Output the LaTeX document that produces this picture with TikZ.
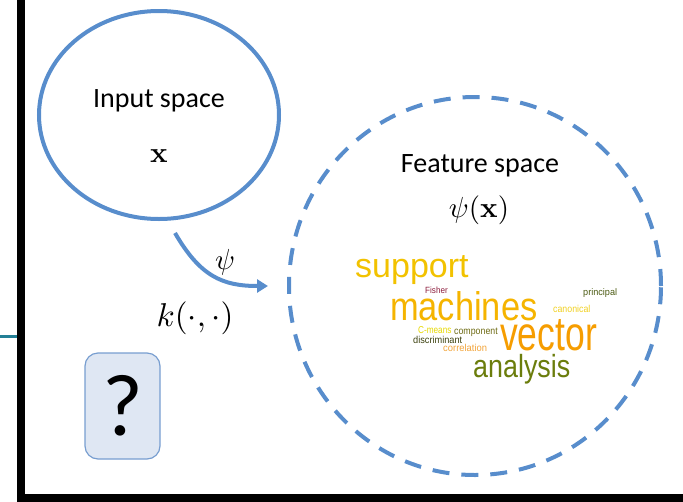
\documentclass[tikz,border=0pt]{standalone}
\usepackage{amsmath}
\usepackage{amssymb}
\usepackage[no-math]{fontspec}
\usepackage{tikz}
\usetikzlibrary{shapes.geometric,arrows.meta}

\newfontfamily\carlito{Carlito}
\newfontfamily\cloudfont{Liberation Sans}

\definecolor{spaceblue}{RGB}{88,141,204}
\definecolor{boxedge}{RGB}{120,158,208}
\definecolor{boxfill}{RGB}{223,231,243}
\definecolor{slideteal}{RGB}{35,128,150}
\definecolor{cSupport}{RGB}{242,194,0}
\definecolor{cMachines}{RGB}{245,180,0}
\definecolor{cVector}{RGB}{246,157,0}
\definecolor{cAnalysis}{RGB}{107,125,12}
\definecolor{cFisher}{RGB}{140,28,60}
\definecolor{cPrincipal}{RGB}{75,90,18}
\definecolor{cCanonical}{RGB}{240,208,32}
\definecolor{cMeans}{RGB}{230,216,0}
\definecolor{cComponent}{RGB}{109,106,18}
\definecolor{cDiscrim}{RGB}{61,66,16}
\definecolor{cCorrel}{RGB}{242,164,58}

\newcommand{\cloudword}[3]{{\fontsize{#1}{#1}\selectfont\cloudfont\scalebox{#2}[1]{#3}}}
\newcommand{\bigmath}[2][2.9]{\scalebox{#1}{$#2$}}

\begin{document}
\begin{tikzpicture}[%
x=1pt, y=-1pt,
>={Triangle[length=11pt,width=13pt]},
inspace/.style={ellipse, draw=spaceblue, line width=4pt, minimum width=240pt, minimum height=208pt, inner sep=0pt},
fspace/.style={ellipse, draw=spaceblue, line width=4pt, dash pattern=on 17pt off 12pt, minimum width=372pt, minimum height=378pt, inner sep=0pt},
qbox/.style={draw=boxedge, fill=boxfill, rounded corners=13pt, line width=1.2pt, minimum width=75pt, minimum height=106pt, inner sep=0pt},
mapto/.style={->, draw=spaceblue, line width=4pt},
slidetext/.style={font=\fontsize{28}{34}\selectfont\carlito, anchor=base, inner sep=0pt},
mathtext/.style={inner sep=0pt},
cword/.style={anchor=base west, inner sep=0pt}
]

\useasboundingbox (0,0) rectangle (683,501);

\draw[line width=8pt] (21,-10) -- (21,498) -- (700,498);
\draw[slideteal, line width=2.5pt] (0,336.5) -- (17,336.5);

\node[inspace] (input) at (159,115) {};
\node[slidetext] (inlabel) at (159,107) {Input space};
\node[mathtext, anchor=base] (invec) at (159,162) {\bigmath{\mathbf{x}}};

\node[fspace] (feature) at (475,286) {};
\node[slidetext] (featlabel) at (480,172) {Feature space};
\node[mathtext, anchor=base] (featvec) at (479,217) {\bigmath{\psi(\mathbf{x})}};

\coordinate (mapstart) at (175,233);
\draw[mapto] (mapstart) .. controls (200,276) and (222,286) .. ([xshift=-19pt]feature.west);
\node[mathtext] (psi) at (225,262) {\bigmath{\psi}};
\node[mathtext] (kernel) at (195,318) {\bigmath[3.3]{k(\cdot,\cdot)}};

\node[qbox] (query) at (122.5,406) {\fontsize{88}{88}\selectfont\carlito ?};

\node[cword, text=cSupport] (support) at (355,277) {\cloudword{34}{1.0}{support}};
\node[cword, text=cMachines] (machines) at (390,320) {\cloudword{40}{0.86}{machines}};
\node[cword, text=cVector] (vector) at (500,350) {\cloudword{48}{0.74}{vector}};
\node[cword, text=cAnalysis] (analysis) at (473,377) {\cloudword{32}{0.84}{analysis}};
\node[cword, text=cFisher] (fisher) at (425,293) {\cloudword{9}{0.9}{Fisher}};
\node[cword, text=cPrincipal] (principal) at (583,295) {\cloudword{9.5}{0.96}{principal}};
\node[cword, text=cCanonical] (canonical) at (553,312) {\cloudword{10}{0.88}{canonical}};
\node[cword, text=cMeans] (cmeans) at (418,333) {\cloudword{10}{0.82}{C-means}};
\node[cword, text=cComponent] (component) at (454,334) {\cloudword{10}{0.88}{component}};
\node[cword, text=cDiscrim] (discrim) at (413,343) {\cloudword{10}{0.92}{discriminant}};
\node[cword, text=cCorrel] (correl) at (443,351) {\cloudword{10}{0.94}{correlation}};

\end{tikzpicture}
\end{document}
